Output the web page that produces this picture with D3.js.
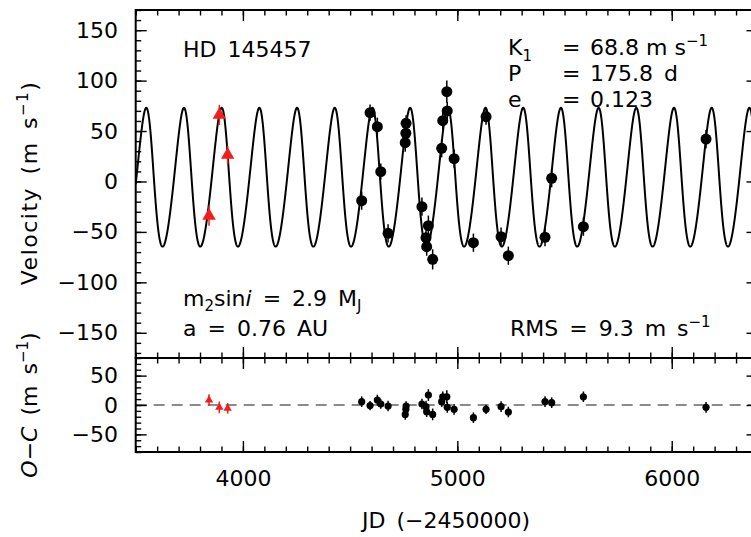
<!DOCTYPE html>
<html>
<head>
<meta charset="utf-8">
<script src="https://cdn.jsdelivr.net/npm/d3@7"></script>
<style>
  body { margin: 0; background: #fff; }
  svg text { font-family: "DejaVu Sans", sans-serif; fill: #000; }
</style>
</head>
<body>
<svg id="chart" width="751" height="537"></svg>
<script>
// HD 145457 radial velocities (JD - 2450000)
const jdDays = [4554, 4593, 4627, 4643, 4677, 4757, 4761, 4760, 4835, 4854, 4857, 4865, 4885,
                4927, 4932, 4951, 4953, 4985, 5075, 5134, 5204, 5238, 5409, 5440, 5588, 6160];
const rvVel = [-19, 68.2, 54.3, 9.7, -51.4, 38.5, 57.7, 47.8, -25, -55.7, -64.6, -43.8, -77.2,
               32.9, 60.3, 89, 69.9, 22.6, -60.7, 64.2, -54.7, -73.6, -55.3, 3.2, -44.8, 42];
const rvErr = [9, 8, 9, 8, 9, 9, 8, 9, 9, 10, 9, 10, 10,
               9, 9, 11, 9, 9, 9, 8, 9, 9, 9, 9, 9, 9];
const ocResid = [5.7, -1, 8.5, 1.7, -1.7, -16, -1.7, -7.4, 1.7, -2.8, -11.3, 17, -16,
                 5.7, 14, 14, -4, -7.4, -21.6, -7.4, -2.8, -11.9, 5.7, 4, 14, -4];

// earlier data set (red triangles)
const earlyJd = [3842, 3890, 3929];
const earlyVel = [-34, 66, 26.3];
const earlyErr = [10, 10, 9];
const earlyResid = [8.5, -4, -5.7];

// orbital elements of the fitted model
const K1 = 68.8, period = 175.8, ecc = 0.123;
const omegaDeg = 60, tPeri = 3573, gammaVel = 0;

const jdTicks = [4000, 5000, 6000];
const velTicks = [-150, -100, -50, 0, 50, 100, 150];
const ocTicks = [-50, 0, 50];

const svg = d3.select("#chart");
const box = { left: 135.7, right: 757.5, top: 10, mid: 358, bottom: 452 };

const x = d3.scaleLinear().domain([3500, 6400]).range([box.left, box.right]);
const yTop = d3.scaleLinear().domain([-175, 170]).range([box.mid, box.top]);
const yBot = d3.scaleLinear().domain([-80, 80]).range([box.bottom, box.mid]);

// keplerian model velocity
function modelVel(t) {
  const M = 2 * Math.PI * (t - tPeri) / period;
  let E = M;
  for (let i = 0; i < 12; i++) E = E - (E - ecc * Math.sin(E) - M) / (1 - ecc * Math.cos(E));
  const nu = 2 * Math.atan2(Math.sqrt(1 + ecc) * Math.sin(E / 2), Math.sqrt(1 - ecc) * Math.cos(E / 2));
  const w = omegaDeg * Math.PI / 180;
  return K1 * (Math.cos(nu + w) + ecc * Math.cos(w)) + gammaVel;
}

svg.append("clipPath").attr("id", "clipTop")
  .append("rect").attr("x", box.left).attr("y", box.top)
  .attr("width", box.right - box.left).attr("height", box.mid - box.top);

// model curve
const tGrid = d3.range(x.domain()[0], x.domain()[1] + 0.5, 0.5);
svg.append("path")
  .datum(tGrid)
  .attr("clip-path", "url(#clipTop)")
  .attr("fill", "none")
  .attr("stroke", "#000")
  .attr("stroke-width", 2)
  .attr("d", d3.line().x(d => x(d)).y(d => yTop(modelVel(d))));

// zero line in O-C panel
svg.append("line")
  .attr("x1", box.left).attr("x2", box.right)
  .attr("y1", yBot(0)).attr("y2", yBot(0))
  .attr("stroke", "#666").attr("stroke-width", 1.6)
  .attr("stroke-dasharray", "11,7");

// axes: inward ticks on every side
function addAxis(gen, scale, major, minor, tr, pad, labels) {
  svg.append("g").attr("transform", tr)
    .call(gen(scale).tickValues(minor).tickSize(-5.5).tickFormat(""))
    .call(g => g.select(".domain").remove())
    .selectAll("line").attr("stroke-width", 1.4);
  const g = svg.append("g").attr("transform", tr)
    .call(gen(scale).tickValues(major).tickSize(-11).tickPadding(pad)
      .tickFormat(labels ? d3.format("d") : ""));
  g.select(".domain").remove();
  g.selectAll("line").attr("stroke-width", 1.4);
  g.selectAll("text").attr("font-size", 22).attr("font-family", "DejaVu Sans");
}

const xMinor = d3.range(3500, 6401, 100);
addAxis(d3.axisTop, x, jdTicks, xMinor, `translate(0,${box.top})`, 0, false);
addAxis(d3.axisBottom, x, jdTicks, xMinor, `translate(0,${box.mid})`, 0, false);
addAxis(d3.axisTop, x, jdTicks, xMinor, `translate(0,${box.mid})`, 0, false);
addAxis(d3.axisBottom, x, jdTicks, xMinor, `translate(0,${box.bottom})`, 18.5, true);

const vMinor = d3.range(-170, 171, 10);
addAxis(d3.axisLeft, yTop, velTicks, vMinor, `translate(${box.left},0)`, 17.7, true);
addAxis(d3.axisRight, yTop, velTicks, vMinor, `translate(${box.right},0)`, 0, false);

const oMinor = d3.range(-80, 81, 10);
addAxis(d3.axisLeft, yBot, ocTicks, oMinor, `translate(${box.left},0)`, 17.7, true);
addAxis(d3.axisRight, yBot, ocTicks, oMinor, `translate(${box.right},0)`, 0, false);

// frames
[[box.top, box.mid], [box.mid, box.bottom]].forEach(([a, b]) => {
  svg.append("rect")
    .attr("x", box.left).attr("y", a)
    .attr("width", box.right - box.left).attr("height", b - a)
    .attr("fill", "none").attr("stroke", "#000").attr("stroke-width", 2);
});

const idx = d3.range(jdDays.length);
const idxE = d3.range(earlyJd.length);
const red = "#f21d1d";

// top panel points
svg.append("g").selectAll("line").data(idx).join("line")
  .attr("x1", i => x(jdDays[i])).attr("x2", i => x(jdDays[i]))
  .attr("y1", i => yTop(rvVel[i] - rvErr[i])).attr("y2", i => yTop(rvVel[i] + rvErr[i]))
  .attr("stroke", "#000").attr("stroke-width", 1.5);
svg.append("g").selectAll("circle").data(idx).join("circle")
  .attr("cx", i => x(jdDays[i])).attr("cy", i => yTop(rvVel[i]))
  .attr("r", 5.5).attr("fill", "#000");

svg.append("g").selectAll("line").data(idxE).join("line")
  .attr("x1", i => x(earlyJd[i])).attr("x2", i => x(earlyJd[i]))
  .attr("y1", i => yTop(earlyVel[i] - earlyErr[i])).attr("y2", i => yTop(earlyVel[i] + earlyErr[i]))
  .attr("stroke", red).attr("stroke-width", 1.5);
svg.append("g").selectAll("path").data(idxE).join("path")
  .attr("transform", i => `translate(${x(earlyJd[i])},${yTop(earlyVel[i])})`)
  .attr("d", d3.symbol().type(d3.symbolTriangle).size(78))
  .attr("fill", red);

// O-C panel points
svg.append("g").selectAll("line").data(idx).join("line")
  .attr("x1", i => x(jdDays[i])).attr("x2", i => x(jdDays[i]))
  .attr("y1", i => yBot(ocResid[i] - rvErr[i])).attr("y2", i => yBot(ocResid[i] + rvErr[i]))
  .attr("stroke", "#000").attr("stroke-width", 1.5);
svg.append("g").selectAll("circle").data(idx).join("circle")
  .attr("cx", i => x(jdDays[i])).attr("cy", i => yBot(ocResid[i]))
  .attr("r", 3.6).attr("fill", "#000");

svg.append("g").selectAll("line").data(idxE).join("line")
  .attr("x1", i => x(earlyJd[i])).attr("x2", i => x(earlyJd[i]))
  .attr("y1", i => yBot(earlyResid[i] - earlyErr[i])).attr("y2", i => yBot(earlyResid[i] + earlyErr[i]))
  .attr("stroke", red).attr("stroke-width", 1.5);
svg.append("g").selectAll("path").data(idxE).join("path")
  .attr("transform", i => `translate(${x(earlyJd[i])},${yBot(earlyResid[i])})`)
  .attr("d", d3.symbol().type(d3.symbolTriangle).size(30))
  .attr("fill", red);

// text with sub/superscripts
function rich(x0, y0, parts, extra) {
  const t = svg.append("text").attr("x", x0).attr("y", y0)
    .attr("font-size", 22).style("word-spacing", "4px");
  if (extra) extra(t);
  let shift = 0;
  parts.forEach(p => {
    const s = t.append("tspan").text(p.t);
    const want = p.shift || 0;
    if (want !== shift) s.attr("dy", want - shift);
    shift = want;
    if (p.small) s.attr("font-size", 15);
    if (p.it) s.attr("font-style", "italic");
  });
  return t;
}

rich(183, 57, [{ t: "HD 145457" }]);

rich(508, 55, [{ t: "K" }, { t: "1", shift: 6, small: true }]);
rich(508, 81, [{ t: "P" }]);
rich(508, 107, [{ t: "e" }]);
rich(562, 55, [{ t: "=" }]);
rich(562, 81, [{ t: "=" }]);
rich(562, 107, [{ t: "=" }]);
rich(590, 55, [{ t: "68.8 m s" }, { t: "−1", shift: -9, small: true }]).style("word-spacing", "0px");
rich(590, 81, [{ t: "175.8 d" }]);
rich(590, 107, [{ t: "0.123" }]);

rich(183, 306, [{ t: "m" }, { t: "2", shift: 5, small: true }, { t: "sin" }, { t: "i", it: true },
  { t: " = 2.9 M" }, { t: "J", shift: 5, small: true }]);
rich(183, 336, [{ t: "a = 0.76 AU" }]);
rich(510, 336, [{ t: "RMS = 9.3 m s" }, { t: "−1", shift: -9, small: true }]);

// axis titles
rich(0, 0, [{ t: "Velocity (m s" }, { t: "−1", shift: -9, small: true }, { t: ")" }],
  t => t.attr("text-anchor", "middle").style("letter-spacing", "1.5px")
    .attr("transform", "translate(37,183) rotate(-90)"));
rich(0, 0, [{ t: "O−C", it: true }, { t: " (m s" }, { t: "−1", shift: -9, small: true }, { t: ")" }],
  t => t.attr("text-anchor", "middle").attr("transform", "translate(37,405) rotate(-90)"));
rich(446, 528, [{ t: "JD (−2450000)" }], t => t.attr("text-anchor", "middle"));
</script>
</body>
</html>
